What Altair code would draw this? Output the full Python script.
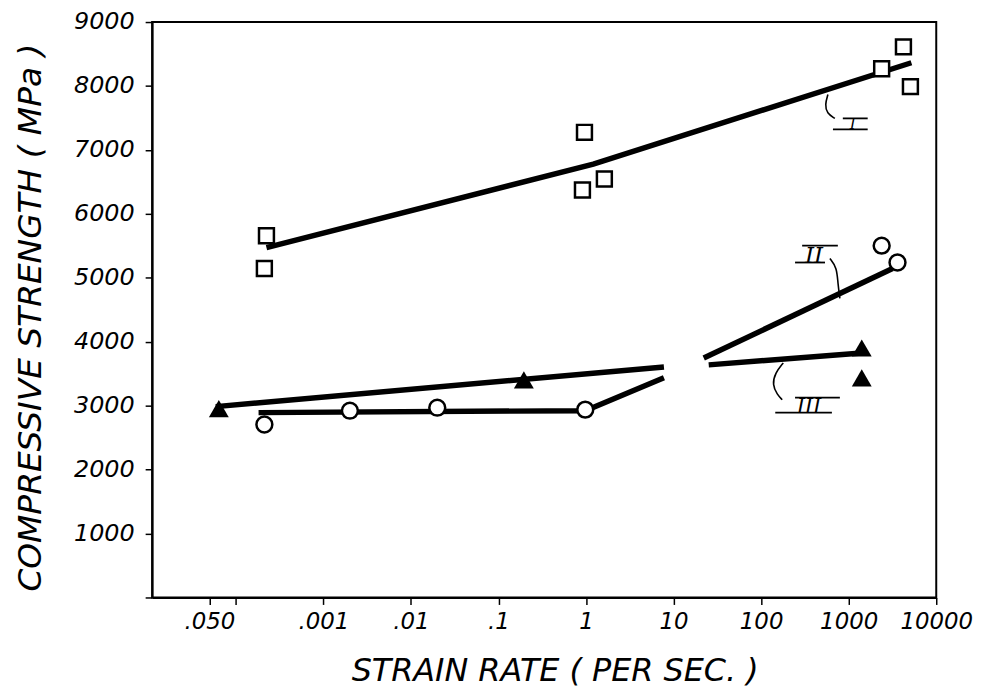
import math
import pandas as pd
import altair as alt

# ---------------- data ----------------
# Series I (open squares)
sq_x = [2.24e-4, 2.12e-4, 0.96, 0.91, 1.62, 4220, 2380, 5070]
sq_y = [5658, 5145, 7275, 6373, 6544, 8612, 8270, 7990]
# Series II (open circles)
ci_x = [2.12e-4, 2.01e-3, 0.020, 0.98, 2380, 3610]
ci_y = [2705, 2922, 2969, 2938, 5503, 5239]
# Series III (filled triangles)
tr_x = [6.4e-5, 0.195, 1410, 1410]
tr_y = [2954, 3404, 3902, 3435]

# Fitted lines (segments)
fit_seg = ["I", "I", "I", "IIa", "IIa", "IIa", "IIb", "IIb", "IIIa", "IIIa", "IIIb", "IIIb"]
fit_x = [2.24e-4, 1.21, 5200, 1.82e-4, 0.98, 7.76, 22.1, 3170, 5.9e-5, 7.76, 25.2, 1410]
fit_y = [5472, 6778, 8363, 2891, 2922, 3435, 3746, 5145, 2985, 3606, 3638, 3824]

# Curve labels (roman numerals) with their leader curves and bars
lab_text = ["I", "II", "III"]
lab_x = [1114, 402, 352]
lab_y = [7322, 5239, 2891]
lab_size = [15, 23, 21]

lead_grp = ["I"] * 4 + ["II"] * 4 + ["III"] * 5
lead_x = [579, 536, 564, 695, 610, 733, 752, 793, 179, 145, 134, 153, 174]
lead_y = [7866, 7710, 7570, 7493, 5301, 5161, 4912, 4679, 3669, 3513, 3327, 3171, 3093]

bar_x1 = [857, 661, 294, 244, 244, 145]
bar_x2 = [1648, 1648, 752, 536, 793, 643]
bar_y = [7493, 7322, 5503, 5239, 3125, 2891]

# Axes
x_tick_values = [5e-5, 1e-4, 1e-3, 1e-2, 1e-1, 1, 10, 100, 1000, 10000]
x_tick_labels = [".050", "", ".001", ".01", ".1", "1", "10", "100", "1000", "10000"]
y_tick_values = [0, 1000, 2000, 3000, 4000, 5000, 6000, 7000, 8000, 9000]
y_tick_labels = ["", "1000", "2000", "3000", "4000", "5000", "6000", "7000", "8000", "9000"]
x_title = "STRAIN RATE ( PER SEC. )"
y_title = "COMPRESSIVE  STRENGTH  ( MPa )"


def label_expr(values, labels):
    parts = []
    for v, l in zip(values, labels):
        tol = abs(v) * 1e-6 + 1e-12
        parts.append(f"abs(datum.value - {v!r}) <= {tol!r} ? '{l}'")
    return " : ".join(parts) + " : ''"


FONT = "DejaVu Sans"

x_scale = alt.Scale(type="log", domain=[1.107e-5, 1e4], nice=False)
y_scale = alt.Scale(domain=[0, 9000], nice=False, zero=False)

x_axis = alt.Axis(
    values=x_tick_values, labelExpr=label_expr(x_tick_values, x_tick_labels),
    title=x_title, grid=False, tickSize=7, tickWidth=1.5, tickColor="black",
    domainColor="black", domainWidth=2, labelFont=FONT, labelFontStyle="italic",
    labelFontSize=23, labelColor="black", labelPadding=6, labelOverlap=False,
    labelFlush=False, titleFont=FONT, titleFontStyle="italic", titleFontWeight="normal",
    titleFontSize=32, titleColor="black", titleX=405, titleY=74,
    titleBaseline="middle", titleAlign="center",
)
y_axis = alt.Axis(
    values=y_tick_values, labelExpr=label_expr(y_tick_values, y_tick_labels),
    title=y_title, grid=False, tickSize=7, tickWidth=1.5, tickColor="black",
    domainColor="black", domainWidth=2, labelFont=FONT, labelFontStyle="italic",
    labelFontSize=24, labelColor="black", labelPadding=11, labelOverlap=False,
    labelFlush=False, titleFont=FONT, titleFontStyle="italic", titleFontWeight="normal",
    titleFontSize=33, titleColor="black", titleAngle=270, titleX=-122, titleY=297,
    titleBaseline="middle", titleAlign="center",
)

X = alt.X("x:Q", scale=x_scale, axis=x_axis)
Y = alt.Y("y:Q", scale=y_scale, axis=y_axis)

fit_df = pd.DataFrame({"seg": fit_seg, "x": fit_x, "y": fit_y})
sq_df = pd.DataFrame({"x": sq_x, "y": sq_y})
ci_df = pd.DataFrame({"x": ci_x, "y": ci_y})
tr_df = pd.DataFrame({"x": tr_x, "y": tr_y})
lead_df = pd.DataFrame({"grp": lead_grp, "x": lead_x, "y": lead_y,
                        "ord": list(range(len(lead_x)))})
bar_df = pd.DataFrame({"x": bar_x1, "x2": bar_x2, "y": bar_y})
lab_df = pd.DataFrame({"t": lab_text, "x": lab_x, "y": lab_y, "fs": lab_size})

fits = alt.Chart(fit_df).mark_line(color="black", strokeWidth=5.5, strokeCap="butt").encode(
    x=X, y=Y, detail="seg:N")

leaders = alt.Chart(lead_df).mark_line(color="black", strokeWidth=1.6, interpolate="basis").encode(
    x=X, y=Y, detail="grp:N", order="ord:Q")

bars = alt.Chart(bar_df).mark_rule(color="black", strokeWidth=1.8).encode(
    x=X, x2="x2:Q", y=Y)

labels = alt.Chart(lab_df).mark_text(
    font="DejaVu Serif", fontStyle="italic", color="black", align="center",
    baseline="alphabetic").encode(
    x=X, y=Y, text="t:N", size=alt.Size("fs:Q", scale=None, legend=None))

squares = alt.Chart(sq_df).mark_point(
    shape="square", fill="white", stroke="black", strokeWidth=2.5, size=225,
    opacity=1, fillOpacity=1).encode(x=X, y=Y)

circles = alt.Chart(ci_df).mark_point(
    shape="circle", fill="white", stroke="black", strokeWidth=2.5, size=256,
    opacity=1, fillOpacity=1).encode(x=X, y=Y)

triangles = alt.Chart(tr_df).mark_point(
    shape="triangle-up", filled=True, color="black", size=400, opacity=1).encode(x=X, y=Y)

chart = alt.layer(fits, leaders, bars, labels, squares, circles, triangles).properties(
    width=789, height=579,
    padding={"left": 145, "top": 12, "right": 40, "bottom": 95},
    autosize=alt.AutoSizeParams(type="none"),
    background="white",
).configure_view(stroke="black", strokeWidth=2)

chart.save("out.html", embed_options={"renderer": "svg", "actions": False})
